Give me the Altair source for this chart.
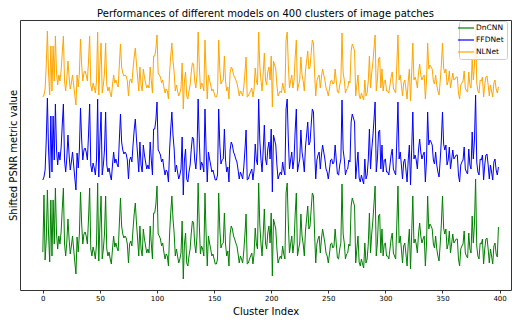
import altair as alt
import pandas as pd

cluster = list(range(400))
models = ["DnCNN", "FFDNet", "NLNet"]
colors = ["#008000", "#0000ff", "#ffa500"]
x_ticks = [0, 50, 100, 150, 200, 250, 300, 350, 400]

dncnn = [
    48, 105, 40, 60, 110, 66, 38, 100, 44, 100, 56, 112, 66, 51, 64, 56, 68, 91, 112, 56,
    44, 58, 81, 61, 46, 54, 64, 51, 38, 26, 63, 48, 66, 108, 76, 56, 66, 68, 64, 56,
    81, 112, 51, 44, 53, 48, 41, 56, 117, 39, 76, 104, 41, 51, 66, 104, 51, 44, 48, 41,
    36, 51, 64, 53, 57, 52, 49, 76, 102, 74, 66, 62, 64, 62, 56, 37, 56, 59, 54, 71,
    86, 97, 77, 61, 44, 74, 51, 44, 71, 61, 54, 47, 51, 47, 74, 56, 41, 87, 87, 96,
    114, 66, 64, 61, 54, 57, 48, 41, 46, 44, 34, 66, 87, 104, 81, 67, 44, 51, 44, 37,
    41, 47, 79, 21, 56, 67, 37, 34, 44, 51, 67, 79, 77, 56, 47, 64, 117, 76, 46, 54,
    51, 44, 107, 66, 34, 64, 57, 51, 44, 46, 41, 36, 36, 41, 107, 71, 52, 56, 57, 87,
    56, 44, 49, 34, 66, 74, 71, 64, 61, 57, 54, 46, 37, 44, 41, 37, 49, 66, 86, 36,
    37, 41, 44, 47, 36, 46, 72, 56, 51, 117, 76, 57, 44, 66, 91, 57, 51, 67, 74, 57,
    87, 24, 81, 76, 71, 51, 37, 41, 44, 41, 54, 46, 41, 107, 117, 76, 47, 56, 64, 47,
    57, 86, 107, 44, 51, 57, 86, 64, 56, 44, 69, 81, 94, 71, 74, 91, 107, 104, 66, 37,
    56, 61, 64, 47, 61, 71, 64, 57, 47, 44, 37, 46, 56, 57, 52, 54, 71, 56, 42, 41,
    51, 57, 116, 66, 57, 41, 46, 47, 56, 54, 94, 102, 98, 94, 37, 51, 64, 38, 34, 41,
    36, 32, 57, 37, 41, 56, 87, 47, 66, 79, 96, 114, 44, 57, 84, 86, 47, 71, 44, 56,
    57, 44, 44, 41, 51, 61, 67, 47, 44, 41, 76, 114, 57, 64, 51, 37, 54, 57, 46, 34,
    56, 71, 31, 66, 104, 57, 61, 56, 47, 66, 77, 64, 57, 61, 64, 34, 56, 104, 71, 76,
    74, 71, 56, 52, 64, 51, 44, 39, 56, 76, 104, 72, 66, 71, 51, 56, 69, 47, 56, 66,
    57, 59, 61, 61, 41, 34, 51, 54, 56, 69, 47, 44, 42, 67, 51, 47, 84, 57, 76, 121,
    54, 44, 41, 57, 56, 61, 36, 51, 61, 62, 51, 37, 51, 44, 36, 54, 57, 46, 43, 73,
]

ffdnet = [
    120, 123, 130, 160, 202, 150, 122, 184, 128, 184, 140, 196, 150, 135, 148, 140, 152, 175, 196, 140,
    128, 142, 165, 145, 130, 138, 148, 135, 122, 110, 147, 132, 150, 192, 160, 140, 150, 152, 148, 140,
    165, 196, 135, 128, 137, 132, 125, 140, 201, 123, 160, 188, 125, 135, 150, 188, 135, 128, 132, 125,
    120, 135, 148, 137, 141, 136, 133, 160, 186, 158, 150, 146, 148, 146, 140, 121, 140, 143, 138, 155,
    170, 181, 161, 145, 128, 158, 135, 128, 155, 145, 138, 131, 135, 131, 158, 140, 125, 171, 171, 180,
    198, 150, 148, 145, 138, 141, 132, 125, 130, 128, 118, 150, 171, 188, 165, 151, 128, 135, 128, 121,
    125, 131, 163, 105, 140, 151, 121, 118, 128, 135, 151, 163, 161, 140, 131, 148, 201, 160, 130, 138,
    135, 128, 191, 150, 118, 148, 141, 135, 128, 130, 125, 120, 120, 125, 191, 155, 136, 140, 141, 171,
    140, 128, 133, 118, 150, 158, 155, 148, 145, 141, 138, 130, 121, 128, 125, 121, 133, 150, 170, 120,
    121, 125, 128, 131, 120, 130, 156, 140, 135, 201, 160, 141, 128, 150, 175, 141, 135, 151, 158, 141,
    171, 108, 165, 160, 155, 135, 121, 125, 128, 125, 138, 130, 125, 191, 201, 160, 131, 140, 148, 131,
    141, 170, 191, 128, 135, 141, 170, 148, 140, 128, 153, 165, 178, 155, 158, 175, 191, 188, 150, 121,
    140, 145, 148, 131, 145, 155, 148, 141, 131, 128, 121, 130, 140, 141, 136, 138, 155, 140, 126, 125,
    135, 141, 200, 150, 141, 125, 130, 131, 140, 138, 178, 186, 182, 178, 121, 135, 148, 122, 118, 125,
    120, 116, 141, 121, 125, 140, 171, 131, 150, 163, 180, 198, 128, 141, 168, 170, 131, 155, 128, 140,
    141, 128, 128, 125, 135, 145, 151, 131, 128, 125, 160, 198, 141, 148, 135, 121, 138, 141, 130, 118,
    140, 155, 115, 150, 188, 141, 145, 140, 131, 150, 161, 148, 141, 145, 148, 118, 140, 188, 155, 160,
    158, 155, 140, 136, 148, 135, 128, 123, 140, 160, 188, 156, 150, 155, 135, 140, 153, 131, 140, 150,
    141, 143, 145, 145, 125, 118, 135, 138, 140, 153, 131, 128, 126, 151, 135, 131, 168, 141, 160, 205,
    138, 128, 125, 141, 140, 145, 120, 135, 145, 146, 135, 121, 135, 128, 120, 138, 141, 130, 125, 133,
]

nlnet = [
    203, 205, 211, 235, 269, 227, 205, 254, 209, 254, 219, 264, 227, 215, 225, 219, 229, 247, 264, 219,
    209, 221, 239, 223, 211, 217, 225, 215, 205, 195, 225, 213, 227, 261, 235, 219, 227, 229, 225, 219,
    239, 264, 215, 209, 217, 213, 207, 219, 268, 205, 235, 257, 207, 215, 227, 257, 215, 209, 213, 207,
    203, 215, 225, 217, 220, 216, 213, 235, 256, 233, 227, 224, 225, 224, 219, 204, 219, 221, 217, 231,
    243, 252, 236, 223, 209, 233, 215, 209, 231, 223, 217, 212, 215, 212, 233, 219, 207, 244, 244, 251,
    265, 227, 225, 223, 217, 220, 213, 207, 211, 209, 201, 227, 244, 257, 239, 228, 209, 215, 209, 204,
    207, 212, 237, 191, 219, 228, 204, 201, 209, 215, 228, 237, 236, 219, 212, 225, 268, 235, 211, 217,
    215, 209, 260, 227, 201, 225, 220, 215, 209, 211, 207, 203, 203, 207, 260, 231, 216, 219, 220, 244,
    219, 209, 213, 201, 227, 233, 231, 225, 223, 220, 217, 211, 204, 209, 207, 204, 213, 227, 243, 203,
    204, 207, 209, 212, 203, 211, 232, 219, 215, 268, 235, 220, 209, 227, 247, 220, 215, 228, 233, 220,
    244, 193, 239, 235, 231, 215, 204, 207, 209, 207, 217, 211, 207, 260, 268, 235, 212, 219, 225, 212,
    220, 243, 260, 209, 215, 220, 243, 225, 219, 209, 229, 239, 249, 231, 233, 247, 260, 257, 227, 204,
    219, 223, 225, 212, 223, 231, 225, 220, 212, 209, 204, 211, 219, 220, 216, 217, 231, 219, 208, 207,
    215, 220, 267, 227, 220, 207, 211, 212, 219, 217, 249, 256, 253, 249, 204, 215, 225, 205, 201, 207,
    203, 200, 220, 204, 207, 219, 244, 212, 227, 237, 251, 265, 209, 220, 241, 243, 212, 231, 209, 219,
    220, 209, 209, 207, 215, 223, 228, 212, 209, 207, 235, 265, 220, 225, 215, 204, 217, 220, 211, 201,
    219, 231, 199, 227, 257, 220, 223, 219, 212, 227, 236, 225, 220, 223, 225, 201, 219, 257, 231, 235,
    233, 231, 219, 216, 225, 215, 209, 205, 219, 235, 257, 232, 227, 231, 215, 219, 229, 212, 219, 227,
    220, 221, 223, 223, 207, 201, 215, 217, 219, 229, 212, 209, 208, 228, 215, 212, 241, 220, 235, 271,
    217, 209, 207, 220, 219, 223, 203, 215, 223, 224, 215, 204, 215, 209, 203, 217, 220, 211, 207, 213,
]

rows = []
for name, vals in zip(models, [dncnn, ffdnet, nlnet]):
    for i, v in zip(cluster, vals):
        rows.append({"Cluster": i, "Value": v, "Model": name})
df = pd.DataFrame(rows)

FONT = "DejaVu Sans"

chart = alt.Chart(df).mark_line(strokeWidth=1, clip=True).encode(
    x=alt.X(
        "Cluster:Q",
        scale=alt.Scale(domain=[-20, 410], nice=False, zero=False),
        axis=alt.Axis(
            values=x_ticks,
            title="Cluster Index",
            titleFontSize=10,
            titleFontWeight="normal",
            titleFont=FONT,
            titleColor="black",
            titlePadding=5,
            labelFontSize=7,
            labelFont=FONT,
            labelColor="black",
            labelPadding=1,
            tickSize=3,
            tickColor="#333333",
            domain=False,
            grid=False,
        ),
    ),
    y=alt.Y(
        "Value:Q",
        scale=alt.Scale(domain=[10, 280], nice=False, zero=False),
        axis=alt.Axis(
            title="Shifted PSNR metric value",
            labels=False,
            ticks=False,
            domain=False,
            grid=False,
            titleFontSize=10,
            titleFontWeight="normal",
            titleFont=FONT,
            titleColor="black",
            titleAngle=270,
            titleBaseline="alphabetic",
            titleAlign="center",
            titleX=-4,
            titleY=135,
        ),
    ),
    color=alt.Color(
        "Model:N",
        scale=alt.Scale(domain=models, range=colors),
        legend=alt.Legend(
            title=None,
            orient="none",
            legendX=439,
            legendY=1,
            fillColor="rgba(255,255,255,0.85)",
            strokeColor="#cccccc",
            cornerRadius=2,
            padding=3,
            labelFontSize=7.5,
            labelFont=FONT,
            labelColor="black",
            labelOffset=6,
            symbolType="M-2.67,0L2.67,0",
            symbolSize=36,
            symbolStrokeWidth=1.2,
            rowPadding=4,
        ),
    ),
).properties(
    width=491,
    height=270,
    autosize=alt.AutoSizeParams(type="none"),
    padding={"left": 12, "top": 12, "right": 1, "bottom": 28},
    title=alt.Title(
        "Performances of different models on 400 clusters of image patches",
        fontSize=10,
        fontWeight="normal",
        font=FONT,
        color="black",
        anchor="middle",
        offset=3,
        dy=10,
        baseline="alphabetic",
    ),
).configure_view(
    stroke="#333333",
    strokeWidth=1,
)

chart.save("out.html", embed_options={"renderer": "svg", "actions": False})
